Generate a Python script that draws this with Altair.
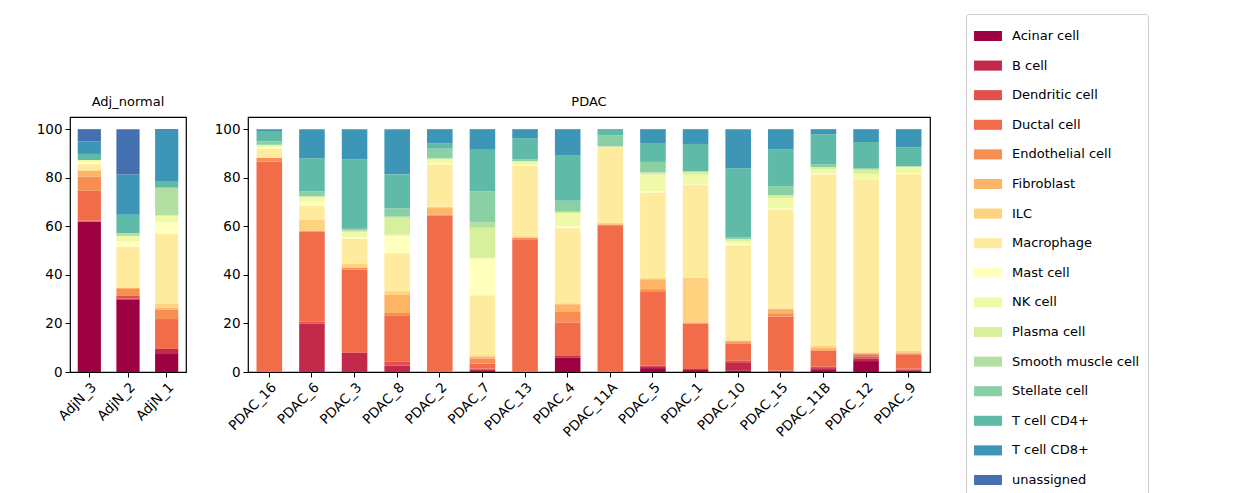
import pandas as pd
import altair as alt

cell_types = ["Acinar cell", "B cell", "Dendritic cell", "Ductal cell", "Endothelial cell",
              "Fibroblast", "ILC", "Macrophage", "Mast cell", "NK cell", "Plasma cell",
              "Smooth muscle cell", "Stellate cell", "T cell CD4+", "T cell CD8+", "unassigned"]
colors = ["#9e0142", "#c2294a", "#e1504a", "#f16c49", "#f88e52", "#fdb465", "#fed27f",
          "#feeb9d", "#ffffbe", "#f0f9a7", "#d8ef9b", "#b3e0a2", "#89d0a4", "#5fbaa8",
          "#3e96b6", "#4470b0"]

adj_samples = ["AdjN_3", "AdjN_2", "AdjN_1"]
pdac_samples = ["PDAC_16", "PDAC_6", "PDAC_3", "PDAC_8", "PDAC_2", "PDAC_7", "PDAC_13",
                "PDAC_4", "PDAC_11A", "PDAC_5", "PDAC_1", "PDAC_10", "PDAC_15", "PDAC_11B",
                "PDAC_12", "PDAC_9"]

# cumulative top (%) of each cell type's segment, in cell_types order
tops = {
    "AdjN_3": [61.9, 62.1, 62.3, 74.6, 80.4, 83, 83, 85.6, 86.5, 87.3, 87.3, 87.3, 87.3, 89.8, 95, 100],
    "AdjN_2": [29.8, 30.3, 31.3, 31.3, 34.2, 34.6, 34.6, 51.6, 53.7, 56, 56, 57.2, 57.2, 64.7, 81.3, 100],
    "AdjN_1": [7.4, 9.5, 9.5, 21.8, 25.6, 26.5, 28, 56.8, 61.7, 64.3, 64.6, 75.9, 75.9, 78.3, 99.6, 100],
    "PDAC_16": [0, 0, 0, 86.7, 88.2, 88.2, 88.2, 91.8, 92.5, 93.3, 93.6, 93.6, 95, 99.2, 100, 100],
    "PDAC_6": [0, 19.9, 20.7, 57.7, 58.2, 58.2, 62.8, 68.6, 70.2, 72, 72.4, 72.4, 74.4, 88, 100, 100],
    "PDAC_3": [0, 7.8, 8.1, 42.1, 43, 43, 44.6, 54.9, 55.6, 57.6, 58.3, 58.3, 59, 87.6, 100, 100],
    "PDAC_8": [0, 2.7, 4.4, 23.4, 24.3, 31.7, 33.3, 48.9, 56, 56.5, 63.6, 64, 67.4, 81.4, 100, 100],
    "PDAC_2": [0, 0, 0, 64.3, 64.8, 67.5, 68, 85.5, 86, 87.5, 88, 88, 92, 94.2, 100, 100],
    "PDAC_7": [0.4, 1.1, 1.4, 3.4, 5.6, 6.4, 6.9, 31.6, 46.6, 47, 59.4, 61.7, 74.3, 91.8, 100, 100],
    "PDAC_13": [0, 0, 0, 54.7, 55.3, 55.3, 55.9, 85, 85.3, 86.8, 86.8, 86.8, 87.6, 96.3, 100, 100],
    "PDAC_4": [6, 6.8, 7, 20.4, 25, 27.9, 28.3, 59.2, 60, 65.3, 66, 66, 70.5, 89.2, 100, 100],
    "PDAC_11A": [0, 0, 0, 60.1, 60.8, 60.8, 61.5, 92.9, 92.9, 92.9, 92.9, 92.9, 97.5, 99.7, 100, 100],
    "PDAC_5": [1.6, 2.4, 2.7, 32.9, 34.1, 38.2, 38.6, 73.9, 74.4, 81.3, 82.2, 82.2, 86.5, 94, 100, 100],
    "PDAC_1": [0.8, 1.2, 1.2, 20, 20.4, 20.4, 38.8, 77.2, 77.5, 81.3, 82.6, 82.6, 82.6, 93.9, 100, 100],
    "PDAC_10": [0.5, 3.7, 4.8, 11.6, 12.3, 13, 13, 52.2, 53, 54, 54.8, 54.8, 55.6, 83.9, 100, 100],
    "PDAC_15": [0.3, 0.3, 0.6, 22.8, 24.2, 26.1, 26.1, 67, 67.4, 71.7, 72.8, 72.8, 76.5, 91.7, 100, 100],
    "PDAC_11B": [0.8, 1.6, 2.3, 8.8, 9.3, 10.1, 10.7, 81.3, 81.6, 83.6, 84.4, 84.4, 85.6, 97.9, 100, 100],
    "PDAC_12": [4.5, 5.6, 6.4, 7.3, 7.3, 7.8, 8.1, 79.2, 79.2, 81.6, 83.4, 83.4, 83.9, 94.7, 100, 100],
    "PDAC_9": [0.5, 1, 1.4, 7.3, 7.7, 8.1, 8.8, 81.6, 81.9, 84.4, 84.7, 84.7, 84.7, 92.5, 100, 100],
}

rows = []
for sample, t in tops.items():
    prev = 0
    for i, ct in enumerate(cell_types):
        rows.append({"sample": sample, "cell_type": ct, "order": i, "y0": prev, "y1": t[i]})
        prev = t[i]
df = pd.DataFrame(rows)


def panel(samples, title, width):
    return alt.Chart(df[df["sample"].isin(samples)], title=title).mark_bar().encode(
        x=alt.X("sample:N", sort=samples, title=None,
                scale=alt.Scale(paddingInner=0.4, paddingOuter=0.2),
                axis=alt.Axis(labelAngle=-45, labelAlign="right", labelBaseline="top")),
        y=alt.Y("y0:Q", title=None, scale=alt.Scale(domain=[0, 105], nice=False),
                axis=alt.Axis(values=[0, 20, 40, 60, 80, 100])),
        y2="y1:Q",
        color=alt.Color("cell_type:N", sort=cell_types, title=None,
                        scale=alt.Scale(domain=cell_types, range=colors),
                        legend=alt.Legend(orient="none", legendX=896, legendY=-103,
                                          symbolType="M-1,-0.36H1V0.36H-1Z", symbolSize=780,
                                          symbolStrokeWidth=0, labelFontSize=13, rowPadding=8.6,
                                          padding=8, strokeColor="#cccccc", cornerRadius=3,
                                          labelOffset=10)),
    ).properties(width=width, height=255)


chart = alt.hconcat(panel(adj_samples, "Adj_normal", 116),
                    panel(pdac_samples, "PDAC", 682), spacing=26).properties(
    padding={"left": 27, "top": 5, "right": 5, "bottom": 5}
).configure(
    font="DejaVu Sans"
).configure_view(stroke="black", strokeWidth=1.2).configure_axis(
    grid=False, domain=False, tickColor="black", labelColor="black", labelFontSize=13.5,
    tickSize=5, labelPadding=3
).configure_title(fontSize=13, fontWeight="normal", offset=8)

chart.save("out.html", embed_options={"renderer": "svg", "actions": False})
